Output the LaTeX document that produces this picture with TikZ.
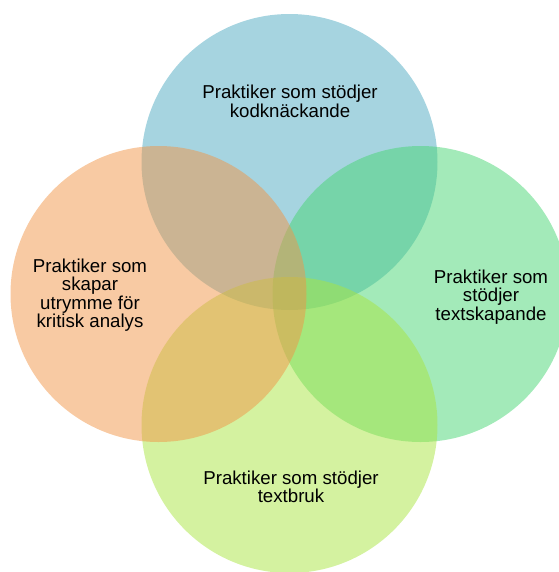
\documentclass[tikz,border=0pt]{standalone}
\usepackage{fontspec}
\setmainfont{Liberation Sans}
\usepackage{tikz}
\usetikzlibrary{positioning}

\definecolor{kodblue}{RGB}{77,169,193}
\definecolor{skapgreen}{RGB}{71,213,115}
\definecolor{brukgreen}{RGB}{169,229,65}
\definecolor{kritorange}{RGB}{241,149,71}

\begin{document}
\begin{tikzpicture}[x=0.75pt, y=-0.75pt,
    venn/.style={circle, draw=none, inner sep=0pt, minimum size=222pt, fill opacity=0.5},
    venntext/.style={align=center, inner sep=0pt, anchor=base, font=\fontsize{14pt}{13.7pt}\selectfont}]
        \useasboundingbox (0,0) rectangle (559,572);

        % the four circles, drawn clockwise from the top
        \node[venn, fill=kodblue] (kod) at (289.5,162) {};
        \node[venn, fill=skapgreen] (skap) at (420.5,294) {};
        \node[venn, fill=brukgreen] (bruk) at (289.5,425) {};
        \node[venn, fill=kritorange] (krit) at (158.5,294) {};

        % labels (base = baseline of the last line)
        \node[venntext] (kodtext) at (290,117) {Praktiker som stödjer\\kodknäckande};
        \node[venntext] (skaptext) at (491,320) {Praktiker som\\stödjer\\textskapande};
        \node[venntext] (bruktext) at (291,502.3) {Praktiker som stödjer\\textbruk};
        \node[venntext] (krittext) at (90,327.3) {Praktiker som\\skapar\\utrymme för\\kritisk analys};
    \end{tikzpicture}
\end{document}
